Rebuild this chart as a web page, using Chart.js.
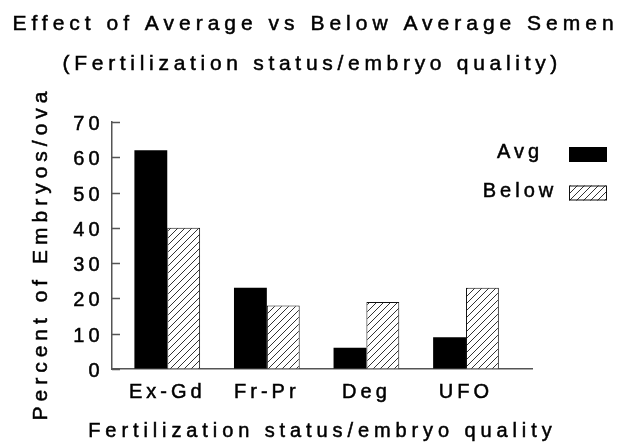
<!DOCTYPE html>
<html>
<head>
<meta charset="utf-8">
<script src="https://cdn.jsdelivr.net/npm/chart.js@4"></script>
<style>
  html, body { margin: 0; padding: 0; background: #fff; }
</style>
</head>
<body>
<canvas id="semenChart" width="618" height="446"></canvas>
<script>
// Effect of semen quality on embryo outcome

const categories = ['Ex-Gd', 'Fr-Pr', 'Deg', 'UFO'];
const avgValues = [62, 23, 6, 9];
const belowValues = [40, 18, 19, 23];
const seriesNames = ['Avg', 'Below'];
const yTickValues = [0, 10, 20, 30, 40, 50, 60, 70];

const titleText = 'Effect of Average vs Below Average Semen';
const subtitleText = '(Fertilization status/embryo quality)';
const xTitleText = 'Fertilization status/embryo quality';
const yTitleText = 'Percent of Embryos/ova';

const FONT = '"Liberation Sans", Arial, sans-serif';
const AXIS_COLOR = '#555';

function makeHatch() {
    const c = document.createElement('canvas');
    c.width = 7;
    c.height = 7;
    const g = c.getContext('2d');
    g.fillStyle = '#fff';
    g.fillRect(0, 0, 7, 7);
    g.strokeStyle = '#333';
    g.lineWidth = 1;
    g.beginPath();
    g.moveTo(-1, 8); g.lineTo(8, -1);
    g.moveTo(-1, 1); g.lineTo(1, -1);
    g.moveTo(6, 8); g.lineTo(8, 6);
    g.stroke();
    return g.createPattern(c, 'repeat');
}

const toPoints = (vals) => vals.map((v, i) => ({ x: i, y: v }));

// fill plus a thin stroke, the original text is a little heavy
function heavyText(ctx, text, x, y) {
    ctx.fillText(text, x, y);
    ctx.strokeText(text, x, y);
}

// titles, legend and inward tick marks
const paperText = {
    id: 'paperText',
    beforeDraw(chart) {
        chart.ctx.letterSpacing = '4px';
    },
    afterDraw(chart) {
        const { ctx, chartArea } = chart;
        const yScale = chart.scales.y;
        ctx.save();

        // inward ticks on y axis
        ctx.strokeStyle = AXIS_COLOR;
        ctx.lineWidth = 1.5;
        ctx.beginPath();
        yScale.ticks.forEach(t => {
            const y = Math.round(yScale.getPixelForValue(t.value)) + 0.5;
            ctx.moveTo(chartArea.left, y);
            ctx.lineTo(chartArea.left + 8, y);
        });
        ctx.stroke();

        ctx.fillStyle = '#000';
        ctx.strokeStyle = '#000';
        ctx.lineWidth = 0.5;
        ctx.textBaseline = 'alphabetic';
        ctx.textAlign = 'center';

        ctx.font = '21px ' + FONT;
        ctx.letterSpacing = '5px';
        heavyText(ctx, titleText, 313 + 2.5, 29.5);
        ctx.letterSpacing = '4.7px';
        heavyText(ctx, subtitleText, 310 + 2.3, 70);

        ctx.font = '20px ' + FONT;
        ctx.letterSpacing = '4.9px';
        heavyText(ctx, xTitleText, 320 + 2.4, 437);

        ctx.save();
        ctx.font = '21px ' + FONT;
        ctx.letterSpacing = '5px';
        ctx.translate(46.5, 256);
        ctx.rotate(-Math.PI / 2);
        heavyText(ctx, yTitleText, 2.5, 0);
        ctx.restore();

        // legend: label on the left, swatch on the right
        ctx.font = '20px ' + FONT;
        ctx.letterSpacing = '4px';
        chart.data.datasets.forEach((ds, i) => {
            const top = chartArea.top + 25 + i * 38.5;
            ctx.fillStyle = '#000';
            ctx.strokeStyle = '#000';
            ctx.lineWidth = 0.5;
            heavyText(ctx, ds.label, 518 + 2, top + 11);
            ctx.fillStyle = ds.backgroundColor;
            ctx.fillRect(569, top, 38, 15);
            if (ds.borderWidth) {
                ctx.strokeStyle = ds.borderColor;
                ctx.lineWidth = 1;
                ctx.strokeRect(569.5, top + 0.5, 37, 14);
            }
        });

        ctx.restore();
    }
};

const tickFont = { family: FONT, size: 20 };

const ctx = document.getElementById('semenChart').getContext('2d');
new Chart(ctx, {
    type: 'bar',
    data: {
        datasets: [{
            label: seriesNames[0],
            data: toPoints(avgValues),
            backgroundColor: '#000',
            borderWidth: 0
        }, {
            label: seriesNames[1],
            data: toPoints(belowValues),
            backgroundColor: makeHatch(),
            borderColor: '#111',
            borderWidth: 1
        }]
    },
    options: {
        responsive: false,
        animation: false,
        categoryPercentage: 0.66,
        barPercentage: 1,
        layout: { padding: { top: 122, right: 86, left: 0, bottom: 0 } },
        plugins: {
            legend: { display: false },
            title: { display: false },
            tooltip: { enabled: false }
        },
        scales: {
            x: {
                type: 'linear',
                min: -0.555,
                max: 3.663,
                offset: false,
                grid: { drawOnChartArea: false, drawTicks: false, offset: false },
                border: { display: true, color: AXIS_COLOR, width: 1.5 },
                afterBuildTicks: (scale) => {
                    scale.ticks = categories.map((c, i) => ({ value: i }));
                },
                afterFit: (scale) => { scale.height = 77; },
                ticks: {
                    autoSkip: false,
                    maxRotation: 0,
                    padding: 11,
                    color: '#000',
                    textStrokeColor: '#000',
                    textStrokeWidth: 0.5,
                    font: tickFont,
                    callback: (v) => categories[v] ?? ''
                }
            },
            y: {
                min: 0,
                max: 70,
                grid: { drawOnChartArea: false, drawTicks: false },
                border: { display: true, color: AXIS_COLOR, width: 1.5 },
                afterBuildTicks: (scale) => {
                    scale.ticks = yTickValues.map(v => ({ value: v }));
                },
                afterFit: (scale) => { scale.width = 112; },
                ticks: {
                    padding: 8.5,
                    labelOffset: 2.5,
                    color: '#000',
                    textStrokeColor: '#000',
                    textStrokeWidth: 0.5,
                    font: tickFont
                }
            }
        }
    },
    plugins: [paperText]
});
</script>
</body>
</html>
